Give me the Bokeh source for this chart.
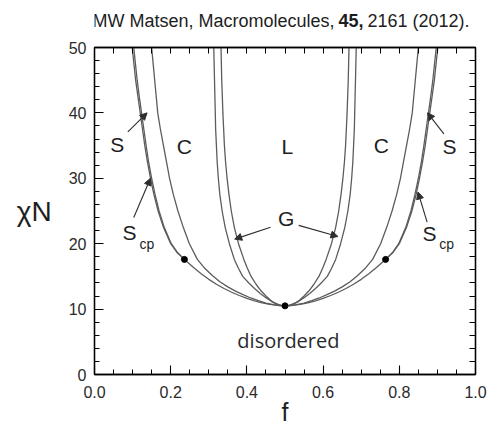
import numpy as np
from bokeh.plotting import figure
from bokeh.layouts import column
from bokeh.models import (FixedTicker, LinearAxis, Label, Arrow, NormalHead,
                          PrintfTickFormatter, Range1d)
from bokeh.core.properties import value
from bokeh.embed import file_html
from bokeh.resources import INLINE

# Mean-field phase boundaries of an AB diblock melt (f = A fraction, chiN)
# disorder -> ordered boundary (dis/Scp above the triple points, dis/S below)
odt_f = [0.099, 0.1035, 0.108, 0.114, 0.120, 0.126, 0.132, 0.139, 0.147, 0.156,
         0.167, 0.181, 0.200, 0.216, 0.236, 0.26, 0.28, 0.30, 0.32, 0.34, 0.36,
         0.38, 0.40, 0.42, 0.44, 0.46, 0.48, 0.50,
         0.52, 0.54, 0.56, 0.58, 0.60, 0.62, 0.64, 0.66, 0.68, 0.70, 0.72, 0.74,
         0.764, 0.784, 0.800, 0.819, 0.833, 0.844, 0.853, 0.861, 0.868, 0.874,
         0.880, 0.886, 0.892, 0.8965, 0.901]
odt_chi = [50, 47.5, 45, 42.5, 40, 37.5, 35, 32.5, 30, 27.5,
           25, 22.5, 20, 18.7, 17.6, 16.35, 15.4, 14.55, 13.8, 13.15, 12.58,
           12.08, 11.64, 11.26, 10.95, 10.72, 10.56, 10.495,
           10.56, 10.72, 10.95, 11.26, 11.64, 12.08, 12.58, 13.15, 13.8, 14.55, 15.4, 16.35,
           17.6, 18.7, 20, 22.5, 25, 27.5, 30, 32.5, 35, 37.5,
           40, 42.5, 45, 47.5, 50]

# Scp / S boundaries (left and right branches, ending at the triple points)
scp_left_f = [0.103, 0.1075, 0.112, 0.1175, 0.1235, 0.1295, 0.1355, 0.142, 0.150,
              0.159, 0.1695, 0.183, 0.2015, 0.217, 0.236]
scp_left_chi = [50, 47.5, 45, 42.5, 40, 37.5, 35, 32.5, 30,
                27.5, 25, 22.5, 20, 18.7, 17.6]
scp_right_f = [0.764, 0.783, 0.7985, 0.817, 0.8305, 0.841, 0.850, 0.858, 0.8645,
               0.8705, 0.8765, 0.8825, 0.888, 0.8925, 0.897]
scp_right_chi = [17.6, 18.7, 20, 22.5, 25, 27.5, 30, 32.5, 35,
                 37.5, 40, 42.5, 45, 47.5, 50]

# S / C boundary
sc_f = [0.150, 0.154, 0.158, 0.162, 0.166, 0.173, 0.181, 0.189, 0.197, 0.207,
        0.219, 0.233, 0.249, 0.270, 0.29, 0.31, 0.33, 0.35, 0.37, 0.39, 0.41,
        0.43, 0.45, 0.47, 0.485, 0.5,
        0.515, 0.53, 0.55, 0.57, 0.59, 0.61, 0.63, 0.65, 0.67, 0.69, 0.71, 0.73,
        0.751, 0.767, 0.781, 0.793, 0.803, 0.811, 0.819, 0.827, 0.834, 0.838,
        0.842, 0.846, 0.850]
sc_chi = [50, 47.5, 45, 42.5, 40, 37.5, 35, 32.5, 30, 27.5,
          25, 22.5, 20, 17.6, 16.2, 15.1, 14.15, 13.4, 12.75, 12.2, 11.7,
          11.28, 10.93, 10.67, 10.55, 10.495,
          10.55, 10.67, 10.93, 11.28, 11.7, 12.2, 12.75, 13.4, 14.15, 15.1, 16.2, 17.6,
          20, 22.5, 25, 27.5, 30, 32.5, 35, 37.5, 40, 42.5,
          45, 47.5, 50]

# C / G boundary
cg_f = [0.313, 0.314, 0.315, 0.316, 0.317, 0.318, 0.320, 0.322, 0.325, 0.329,
        0.335, 0.343, 0.354, 0.367, 0.378, 0.389, 0.405, 0.42, 0.435, 0.45,
        0.465, 0.48, 0.49, 0.5,
        0.51, 0.52, 0.535, 0.55, 0.565, 0.58, 0.595, 0.611, 0.622, 0.633,
        0.646, 0.657, 0.665, 0.671, 0.675, 0.678, 0.680, 0.682, 0.683, 0.684,
        0.685, 0.686, 0.687]
cg_chi = [50, 47.5, 45, 42.5, 40, 37.5, 35, 32.5, 30, 27.5,
          25, 22.5, 20, 17.6, 16.2, 15, 14.0, 13.15, 12.4, 11.75,
          11.15, 10.72, 10.56, 10.495,
          10.56, 10.72, 11.15, 11.75, 12.4, 13.15, 14.0, 15, 16.2, 17.6,
          20, 22.5, 25, 27.5, 30, 32.5, 35, 37.5, 40, 42.5,
          45, 47.5, 50]

# G / L boundary
gl_f = [0.332, 0.333, 0.334, 0.3355, 0.337, 0.339, 0.341, 0.344, 0.348, 0.353,
        0.359, 0.367, 0.378, 0.392, 0.401, 0.411, 0.424, 0.437, 0.45, 0.462,
        0.474, 0.485, 0.493, 0.5,
        0.507, 0.515, 0.526, 0.538, 0.55, 0.563, 0.576, 0.589, 0.599, 0.608,
        0.622, 0.633, 0.641, 0.647, 0.652, 0.656, 0.659, 0.661, 0.663, 0.6645,
        0.666, 0.667, 0.668]
gl_chi = [50, 47.5, 45, 42.5, 40, 37.5, 35, 32.5, 30, 27.5,
          25, 22.5, 20, 17.6, 16.3, 15, 13.8, 12.8, 12.0, 11.35,
          10.9, 10.65, 10.53, 10.495,
          10.53, 10.65, 10.9, 11.35, 12.0, 12.8, 13.8, 15, 16.3, 17.6,
          20, 22.5, 25, 27.5, 30, 32.5, 35, 37.5, 40, 42.5,
          45, 47.5, 50]

# critical point and the two triple points
dot_f = [0.236, 0.5, 0.764]
dot_chi = [17.6, 10.495, 17.6]

x_major = [0.0, 0.2, 0.4, 0.6, 0.8, 1.0]
y_major = [0, 10, 20, 30, 40, 50]
x_minor = [round(0.05 * i, 2) for i in range(21)]
y_minor = list(range(0, 51, 2))

FONT = "Liberation Sans"
TXT = "#1e1e1e"

# ---- citation line (its frame lines up with the diagram's frame) ----------
HEAD_H = 34
head = figure(width=488, height=HEAD_H, x_range=Range1d(0, 1),
              y_range=Range1d(0, HEAD_H), output_backend="svg",
              toolbar_location=None, x_axis_type=None, y_axis_type=None,
              min_border_left=94, min_border_right=13,
              min_border_top=0, min_border_bottom=0,
              outline_line_color=None,
              background_fill_color="white", border_fill_color="white")
head.grid.visible = False
cite_kw = dict(text_font=value(FONT), text_font_size="18px",
               text_baseline="middle", text_color=TXT)
cite_y = HEAD_H - 20
head.text(x=[0.630], y=[cite_y], text=["MW Matsen, Macromolecules,"],
          text_align="right", **cite_kw)
head.text(x=[0.673], y=[cite_y], text=["45,"], text_align="center",
          text_font_style="bold", **cite_kw)
head.text(x=[0.7165], y=[cite_y], text=["2161 (2012)."], text_align="left",
          **cite_kw)

# ---- phase diagram -------------------------------------------------------
p = figure(width=488, height=430 - HEAD_H, x_range=(0, 1), y_range=(0, 50),
           output_backend="svg", toolbar_location=None,
           min_border_left=94, min_border_right=13,
           min_border_top=47 - HEAD_H, min_border_bottom=56,
           background_fill_color="white", border_fill_color="white")
p.grid.visible = False
p.outline_line_color = "black"
p.outline_line_width = 1.3


def style_axis(ax, ticks, minor):
    ax.ticker = FixedTicker(ticks=ticks, minor_ticks=minor)
    ax.axis_line_color = "black"
    ax.axis_line_width = 1.3
    ax.major_tick_in = 9
    ax.major_tick_out = 0
    ax.minor_tick_in = 5
    ax.minor_tick_out = 0
    ax.major_tick_line_color = "black"
    ax.minor_tick_line_color = "black"
    ax.major_tick_line_width = 1.1
    ax.minor_tick_line_width = 1.0
    ax.major_label_text_font = FONT
    ax.major_label_text_color = "#2a2a2a"
    ax.major_label_text_font_size = "16px"


xa = p.xaxis[0]
style_axis(xa, x_major, x_minor)
xa.formatter = PrintfTickFormatter(format="%.1f")
xa.major_label_standoff = 11
xa.axis_label = "f"
xa.axis_label_text_font = FONT
xa.axis_label_text_font_size = "25px"
xa.axis_label_text_font_style = "normal"
xa.axis_label_text_color = TXT
xa.axis_label_standoff = -3

ya = p.yaxis[0]
style_axis(ya, y_major, y_minor)
ya.major_label_standoff = 8
ya.axis_label = "\u03c7N"
ya.axis_label_orientation = "horizontal"
ya.axis_label_text_font = FONT
ya.axis_label_text_font_size = "28px"
ya.axis_label_text_font_style = "normal"
ya.axis_label_text_color = TXT
ya.axis_label_standoff = 14
ya.axis_label_text_baseline = "top"

# tick marks along the top and right edges of the box (no labels there)
top = LinearAxis(ticker=FixedTicker(ticks=[], minor_ticks=x_minor),
                 axis_line_color="black", axis_line_width=1.3,
                 minor_tick_in=6, minor_tick_out=0, major_label_standoff=0)
p.add_layout(top, "above")
right = LinearAxis(ticker=FixedTicker(ticks=[], minor_ticks=y_minor),
                   axis_line_color="black", axis_line_width=1.3,
                   minor_tick_in=6, minor_tick_out=0, major_label_standoff=0)
p.add_layout(right, "right")

LINE = "#5c5c5c"
LW = 1.3
p.line(odt_f, odt_chi, line_color=LINE, line_width=LW)
p.line(scp_left_f, scp_left_chi, line_color=LINE, line_width=LW)
p.line(scp_right_f, scp_right_chi, line_color=LINE, line_width=LW)
p.line(sc_f, sc_chi, line_color=LINE, line_width=LW)
p.line(cg_f, cg_chi, line_color=LINE, line_width=LW)
p.line(gl_f, gl_chi, line_color=LINE, line_width=LW)
p.scatter(dot_f, dot_chi, size=6, fill_color="black", line_color="black")


def add_text(x, y, s, size, font=FONT, align="center", color=TXT):
    p.add_layout(Label(x=x, y=y, text=s, text_font=font,
                       text_font_size=f"{size}px", text_align=align,
                       text_baseline="middle", text_color=color))


# phase labels
add_text(0.060, 35.2, "S", 21)
add_text(0.236, 34.9, "C", 21)
add_text(0.506, 34.9, "L", 21)
add_text(0.753, 35.0, "C", 21)
add_text(0.932, 34.9, "S", 21)
add_text(0.503, 23.9, "G", 21)
add_text(0.092, 21.7, "S", 21)
add_text(0.118, 20.0, "cp", 14, align="left")
add_text(0.879, 21.6, "S", 21)
add_text(0.905, 19.9, "cp", 14, align="left")
add_text(0.509, 5.2, "disordered", 20, font="Open Sans", color="#2a2a2a")

# pointer arrows
ARW = "#2e2e2e"
arrows = [
    (0.0875, 37.1, 0.138, 40.0),
    (0.103, 24.0, 0.147, 30.0),
    (0.917, 36.8, 0.874, 40.0),
    (0.873, 23.3, 0.849, 27.9),
    (0.462, 22.5, 0.368, 20.7),
    (0.536, 22.8, 0.639, 21.1),
]
for xs, ys, xe, ye in arrows:
    p.add_layout(Arrow(x_start=xs, y_start=ys, x_end=xe, y_end=ye,
                       line_color=ARW, line_width=1.1,
                       end=NormalHead(size=7, fill_color=ARW, line_color=ARW)))

layout = column(head, p, spacing=0)
open("out.html", "w").write(file_html(layout, INLINE))
